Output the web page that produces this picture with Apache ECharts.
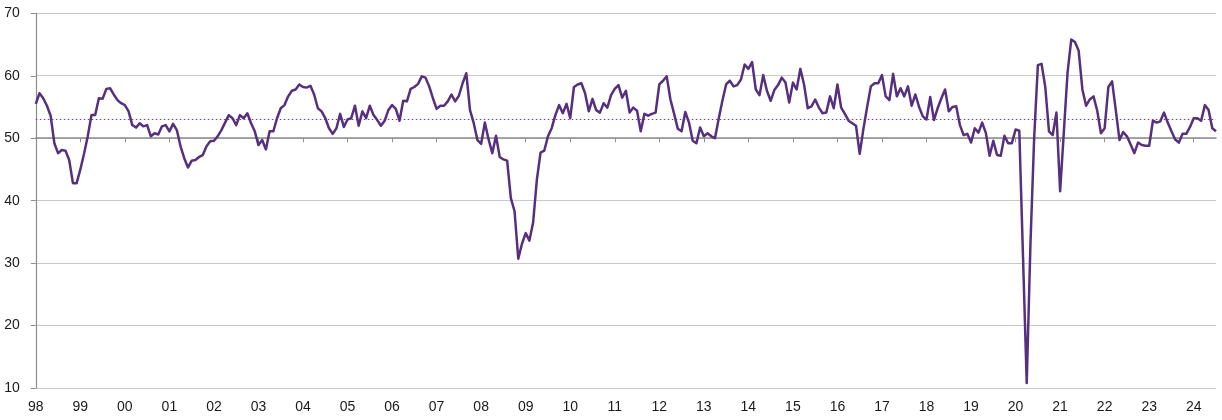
<!DOCTYPE html>
<html>
<head>
<meta charset="utf-8">
<script src="https://cdn.jsdelivr.net/npm/echarts@6/dist/echarts.min.js"></script>
<style>
  html, body { margin: 0; padding: 0; background: #ffffff; }
  #chart { width: 1222px; height: 420px; }
</style>
</head>
<body>
<div id="chart"></div>
<script>
// Monthly index values, Jan 1998 onwards
const pmiValues = [
  55.5, 57.2, 56.4, 55.2, 53.6, 49.2, 47.6, 48.1, 48.0, 46.5, 42.8, 42.8,
  45.0, 47.5, 50.3, 53.7, 53.7, 56.4, 56.3, 57.9, 58.0, 57.0, 56.1, 55.6,
  55.3, 54.3, 52.1, 51.7, 52.4, 51.9, 52.1, 50.3, 50.8, 50.6, 51.9, 52.1,
  51.1, 52.3, 51.3, 48.7, 46.8, 45.3, 46.4, 46.5, 47.0, 47.3, 48.7, 49.5,
  49.6, 50.3, 51.3, 52.5, 53.7, 53.2, 52.1, 53.7, 53.2, 54.0, 52.4, 51.1,
  48.9, 49.7, 48.2, 51.1, 51.1, 53.2, 54.8, 55.3, 56.7, 57.6, 57.8, 58.6,
  58.2, 58.1, 58.4, 57.0, 54.8, 54.3, 53.2, 51.6, 50.7, 51.6, 53.9, 51.8,
  53.0, 53.2, 55.2, 52.0, 54.3, 53.2, 55.2, 53.7, 52.9, 52.0, 52.8, 54.5,
  55.3, 54.7, 52.8, 56.0, 55.9, 57.9, 58.2, 58.7, 59.9, 59.7, 58.3, 56.4,
  54.7, 55.2, 55.2, 55.9, 57.0, 55.9, 56.8, 58.8, 60.4, 54.5, 52.4, 49.7,
  49.1, 52.5, 49.8, 47.6, 50.4, 47.0, 46.6, 46.4, 40.4, 38.3, 30.7, 33.1,
  34.8, 33.6, 36.5, 43.3, 47.7, 48.0, 50.3, 51.6, 53.7, 55.3, 54.0, 55.5,
  53.2, 58.2, 58.6, 58.8, 57.2, 54.3, 56.3, 54.5, 54.1, 55.6, 54.9, 56.9,
  57.9, 58.5, 56.5, 57.6, 54.1, 54.9, 54.4, 51.1, 53.9, 53.6, 53.9, 54.1,
  58.6, 59.2, 59.9, 56.2, 53.9, 51.5, 51.1, 54.2, 52.5, 49.6, 49.2, 51.7,
  50.3, 50.8, 50.3, 50.0, 53.1, 56.0, 58.6, 59.2, 58.3, 58.5, 59.4, 61.8,
  61.1, 62.2, 57.8, 56.9, 60.1, 57.6, 56.0, 57.7, 58.5, 59.7, 58.9, 55.7,
  58.9, 57.8, 61.1, 58.6, 54.8, 55.1, 56.2, 54.9, 54.0, 54.1, 56.7, 54.8,
  58.6, 54.9, 53.9, 52.8, 52.4, 52.0, 47.5, 51.5, 55.0, 58.3, 58.8, 58.8,
  60.1, 56.7, 56.1, 60.3, 56.7, 58.0, 56.7, 58.3, 55.2, 57.0, 55.0, 53.5,
  53.0, 56.6, 52.9, 54.8, 56.4, 57.8, 54.3, 55.0, 55.1, 52.1, 50.5, 50.7,
  49.3, 51.6, 50.9, 52.5, 50.8, 47.2, 49.6, 47.3, 47.2, 50.4, 49.2, 49.2,
  51.4, 51.2, 31.0, 10.8, 33.0, 50.0, 61.7, 61.9, 58.2, 51.1, 50.5, 54.1,
  41.5, 51.0, 60.5, 65.8, 65.4, 64.0, 57.8, 55.2, 56.2, 56.7, 54.4, 50.8,
  51.6, 58.2, 59.1, 54.5, 49.7, 51.0, 50.3, 49.0, 47.6, 49.3, 48.9, 48.8,
  48.8, 52.8, 52.5, 52.7, 54.1, 52.5, 51.1, 49.8, 49.3, 50.7, 50.7, 51.8,
  53.2, 53.2, 52.8, 55.3, 54.5, 51.6, 51.1
];
const startYear = 1998;
const tickLabels = ['98','99','00','01','02','03','04','05','06','07','08','09','10',
  '11','12','13','14','15','16','17','18','19','20','21','22','23','24'];
const averageLevel = 53.05;
const axisCrossValue = 50;
const yMin = 10, yMax = 70, yStep = 10;

const months = pmiValues.map((_, i) => {
  const y = startYear + Math.floor(i / 12);
  const m = (i % 12) + 1;
  return y + '-' + (m < 10 ? '0' + m : m);
});

const chart = echarts.init(document.getElementById('chart'), null, { renderer: 'canvas' });
const gridTop = 13.3, gridBottom = 32, gridLeft = 35.8, gridRight = 6;
const gridHeight = 420 - gridTop - gridBottom;
const crossOffset = -gridHeight * (axisCrossValue - yMin) / (yMax - yMin);

const labelFont = { fontFamily: 'Liberation Sans, Arial, sans-serif', fontSize: 14, color: '#1a1a1a' };

chart.setOption({
  animation: false,
  backgroundColor: '#ffffff',
  grid: { left: gridLeft, right: gridRight, top: gridTop, bottom: gridBottom, containLabel: false },
  xAxis: [
    {
      type: 'category',
      data: months,
      boundaryGap: false,
      position: 'bottom',
      axisLine: { show: false },
      axisTick: { show: false },
      splitLine: { show: false },
      axisLabel: Object.assign({
        interval: (idx) => idx % 12 === 0,
        formatter: (val, idx) => (idx % 12 === 0 ? tickLabels[idx / 12] : ''),
        margin: 12,
        showMinLabel: true,
        showMaxLabel: true,
        hideOverlap: false
      }, labelFont)
    },
    {
      type: 'category',
      data: months,
      boundaryGap: false,
      position: 'bottom',
      offset: crossOffset,
      axisLine: { show: true, lineStyle: { color: '#8c8c8c', width: 1.5 } },
      axisTick: { show: true, interval: (idx) => idx % 12 === 0, length: 4, lineStyle: { color: '#8c8c8c', width: 1 } },
      axisLabel: { show: false },
      splitLine: { show: false }
    }
  ],
  yAxis: {
    type: 'value',
    min: yMin,
    max: yMax,
    interval: yStep,
    axisLine: { show: true, lineStyle: { color: '#8c8c8c', width: 1.2 } },
    axisTick: { show: true, length: 5, lineStyle: { color: '#8c8c8c' } },
    splitLine: { show: true, lineStyle: { color: '#c8c8c8', width: 1 } },
    axisLabel: Object.assign({ margin: 16 }, labelFont)
  },
  series: [
    {
      type: 'line',
      xAxisIndex: 0,
      data: pmiValues,
      showSymbol: false,
      symbol: 'none',
      lineStyle: { color: '#56307f', width: 2.5, join: 'round' },
      itemStyle: { color: '#56307f' },
      markLine: {
        silent: true,
        symbol: 'none',
        label: { show: false },
        lineStyle: { color: '#6b3c95', type: [1.5, 2.5], width: 1.2 },
        data: [{ yAxis: averageLevel }]
      },
      z: 5
    }
  ]
});
</script>
</body>
</html>
